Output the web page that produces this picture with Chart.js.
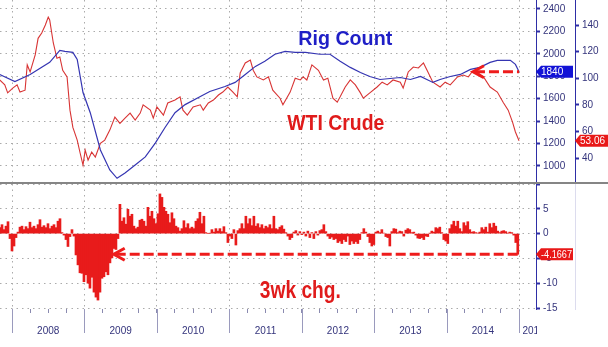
<!DOCTYPE html>
<html>
<head>
<meta charset="utf-8">
<script src="https://cdn.jsdelivr.net/npm/chart.js@4.4.1/dist/chart.umd.min.js"></script>
<style>
  html, body { margin: 0; padding: 0; background: #fff; }
  #wrap { position: relative; width: 608px; height: 347px; overflow: hidden; background: #fff; }
  #top { position: absolute; left: 0; top: 0; }
  #sep { position: absolute; left: 0; top: 182px; width: 608px; height: 2px; background: #858585; }
  #bottom { position: absolute; left: 0; top: 184px; }
</style>
</head>
<body>
<div id="wrap">
  <canvas id="top" width="608" height="182"></canvas>
  <div id="sep"></div>
  <canvas id="bottom" width="608" height="163"></canvas>
</div>
<script>
// ---- data ----
const years = [2008, 2009, 2010, 2011, 2012, 2013, 2014, 2015];
const yearLabels = ['2008', '2009', '2010', '2011', '2012', '2013', '2014', '2015'];
const rigTicks = [1000, 1200, 1400, 1600, 1800, 2000, 2200, 2400];
const wtiTicks = [40, 60, 80, 100, 120, 140];
const chgTicks = [-15, -10, -5, 0, 5, 10];

const rigYears = [2007.83, 2008.04, 2008.25, 2008.52, 2008.66, 2008.73, 2008.84, 2008.90, 2008.98, 2009.08,
  2009.22, 2009.35, 2009.45, 2009.56, 2009.70, 2009.84, 2009.98, 2010.11, 2010.25, 2010.39,
  2010.60, 2010.73, 2010.94, 2011.08, 2011.22, 2011.36, 2011.49, 2011.63, 2011.77, 2011.91,
  2012.05, 2012.25, 2012.39, 2012.53, 2012.67, 2012.81, 2012.94, 2013.08, 2013.22, 2013.36,
  2013.50, 2013.64, 2013.81, 2013.91, 2014.05, 2014.19, 2014.33, 2014.46, 2014.60, 2014.70,
  2014.88, 2014.95, 2015.00];
const rigCount = [1816, 1753, 1816, 1924, 2031, 2022, 2013, 1950, 1655, 1475,
  1143, 964, 890, 937, 1009, 1081, 1206, 1341, 1475, 1547,
  1619, 1664, 1709, 1745, 1816, 1888, 1933, 1996, 2022, 2013,
  2013, 1996, 1996, 1933, 1879, 1834, 1798, 1771, 1780, 1789,
  1771, 1798, 1745, 1771, 1798, 1816, 1861, 1879, 1924, 1942,
  1942, 1906, 1840];

const wtiYears = [2007.83, 2007.90, 2007.94, 2008.01, 2008.07, 2008.11, 2008.18, 2008.21, 2008.25, 2008.32,
  2008.36, 2008.41, 2008.46, 2008.50, 2008.52, 2008.57, 2008.62, 2008.66, 2008.70, 2008.76,
  2008.80, 2008.84, 2008.90, 2008.94, 2008.98, 2009.01, 2009.05, 2009.10, 2009.15, 2009.22,
  2009.28, 2009.35, 2009.42, 2009.49, 2009.56, 2009.63, 2009.70, 2009.77, 2009.81, 2009.91,
  2009.95, 2010.00, 2010.09, 2010.15, 2010.25, 2010.32, 2010.36, 2010.42, 2010.50, 2010.60,
  2010.64, 2010.71, 2010.78, 2010.85, 2010.91, 2010.98, 2011.05, 2011.11, 2011.15, 2011.22,
  2011.29, 2011.33, 2011.38, 2011.47, 2011.54, 2011.60, 2011.70, 2011.74, 2011.84, 2011.91,
  2011.98, 2012.02, 2012.07, 2012.14, 2012.23, 2012.30, 2012.36, 2012.43, 2012.49, 2012.53,
  2012.60, 2012.67, 2012.74, 2012.81, 2012.85, 2012.94, 2013.04, 2013.11, 2013.18, 2013.26,
  2013.36, 2013.40, 2013.47, 2013.54, 2013.61, 2013.68, 2013.73, 2013.81, 2013.91, 2013.98,
  2014.05, 2014.15, 2014.23, 2014.30, 2014.35, 2014.42, 2014.51, 2014.60, 2014.70, 2014.78,
  2014.85, 2014.91, 2014.95, 2015.00];
const wtiPrice = [98.7, 95, 89, 92.6, 95, 89.6, 91, 110, 104.7, 117.5,
  130, 134, 140, 146, 143.8, 126.5, 115, 116, 106, 101,
  76, 63, 53.5, 43.8, 34.7, 46, 38.5, 44.5, 40.8, 51,
  53.5, 61, 70.8, 66, 70, 73.8, 68.6, 73.8, 80, 76,
  70, 78.4, 72.3, 81.4, 83.6, 86, 76, 72.3, 78.4, 80,
  76, 81.4, 83.6, 87.4, 89.6, 93.4, 89.6, 86, 104, 111.5,
  113.7, 106, 101, 98.7, 101, 91, 85, 80, 89.6, 100,
  98.7, 101, 98.7, 110, 106, 98.7, 100, 85, 82, 86,
  93.4, 98.7, 95, 89, 85, 89, 93.4, 97, 95, 98.7,
  97, 92.6, 104.7, 108.4, 107.7, 111.5, 106, 97, 93.4, 97,
  95, 101, 102.4, 101, 104.7, 104.7, 101, 93.4, 89.6, 82,
  76, 67, 59.6, 53.06];

// 3wk change, sampled every ~2 weeks from the start of the chart
const chgStart = 2007.834;
const chgStep = 0.0276;
const chgValues = [
  1.2, 1.8, 0.8, 1.5, 2.4, -1.0, -3.5, -2.5, -0.8, 0.3,
  1.3, 1.5, 0.8, 1.4, 1.0, 2.3, 1.2, 1.5, 1.0, 1.8,
  2.8, 1.3, 1.6, 1.2, 2.0, 1.0, 1.5, 1.8, 1.2, 2.5,
  3.0, 0.2, -0.3, -1.2, -2.6, -0.6, 0.8, -0.5, -4.3, -6.3,
  -7.9, -8.0, -9.7, -8.3, -10.0, -11.0, -8.8, -11.8, -12.8, -13.4,
  -11.8, -9.0, -8.7, -7.7, -8.3, -5.9, -4.9, -3.0, -3.2, -1.0,
  5.9, 2.5, 3.2, 1.9, 4.9, 3.5, 3.9, 1.5, 1.0, 1.3,
  2.7, 2.9, 2.5, 1.5, 5.3, 3.5, 4.5, 3.0, 2.0, 4.0,
  8.0, 7.3, 5.3, 4.5, 3.9, 2.2, 4.2, 3.0, 1.5, 1.2,
  0.5, 1.0, 2.6, 1.2, 2.0, 1.0, 1.3, 1.0, 2.5, 3.0,
  4.3, 2.0, 3.5, 0.2, 0.0, 0.1, 0.8, 0.3, 1.0, 0.5,
  1.0, 0.4, 1.4, 0.2, -1.8, -0.5, -1.0, 0.8, -2.3, 0.6,
  1.0, 2.0, 1.0, 3.5, 2.0, 3.0, 1.6, 3.5, 1.5, 2.0,
  1.2, 1.8, 1.0, 1.5, 1.2, 1.8, 1.0, 3.5, 1.0, 0.8,
  1.3, 1.6, 0.9, 0.2, -0.5, -1.2, -0.8, 0.3, 0.6, -0.3,
  0.4, -0.2, 0.3, -0.5, 0.5, -0.8, 0.2, -1.0, 0.4, -0.3,
  0.6, 0.8, 1.8, 0.4, -0.5, -1.0, -0.7, -1.2, -1.0, -1.8,
  -1.5, -2.0, -1.2, -1.6, -0.5, -2.2, -1.5, -2.0, -1.6, -2.0,
  -1.2, 0.2, 1.0, 0.3, -0.6, -1.8, -2.5, -2.2, 0.3, 0.5,
  0.2, 0.8, 0.1, -0.6, -0.8, -2.5, 0.4, 1.0, 0.9, 0.2,
  0.5, 0.4, -0.5, 0.7, 1.0, 0.8, 0.2, 0.3, -0.3, -0.9,
  -1.0, -0.8, -1.2, -0.5, -0.6, 0.1, 0.5, 0.3, 1.2, 1.0,
  1.3, 0.2, -1.2, -1.5, -2.0, 1.0, 1.8, 2.5, 1.5, 2.5,
  1.0, 0.4, 2.2, 1.6, 2.4, 0.8, 0.3, 0.4, 0.2, 0.1,
  0.3, 1.2, 0.8, 1.3, 0.3, 2.0, 1.2, 2.1, 1.5, 0.5,
  0.2, 0.5, 0.6, 0.4, 0.1, 0.3, 0.2, -0.3, -1.8, -4.1667];

// annotation anchors (year, value)
const rigTitle = [2012.60, 2079];
const wtiTitle = [2012.47, 61.1];
const chgTitle = [2011.98, -13.0];
const rigArrowFrom = 2014.35;
const chgArrowFrom = 2009.39;

// ---- styling ----
const FONT = '"Liberation Sans", Arial, sans-serif';
const gridColor = '#ababab';
const axisBlue = '#2e2ea6';
const labelColor = '#34347c';
const lineBlue = '#3535b2';
const lineRed = '#d83434';
const barRed = '#e81b1b';
const xMin = 2007.834, xMax = 2015.234;

function pts(xs, ys) { return xs.map((x, i) => ({ x: x, y: ys[i] })); }
const last = arr => arr[arr.length - 1];
const plain = v => String(v);

function rightAxisFit(w) {
  return s => { s.width = w; s.paddingTop = 0; s.paddingBottom = 0; };
}

function drawTitle(ctx, text, cx, baseY, size, maxW, color) {
  ctx.save();
  ctx.font = 'bold ' + size + 'px ' + FONT;
  ctx.fillStyle = color;
  ctx.textAlign = 'center';
  ctx.textBaseline = 'alphabetic';
  ctx.fillText(text, cx, baseY, maxW);
  ctx.restore();
}

function dashedArrow(ctx, xTip, xEnd, y) {
  ctx.save();
  ctx.strokeStyle = '#ee1c1c';
  ctx.lineWidth = 3;
  ctx.setLineDash([10, 4]);
  ctx.beginPath();
  ctx.moveTo(xTip + 3, y);
  ctx.lineTo(xEnd, y);
  ctx.stroke();
  ctx.setLineDash([]);
  ctx.beginPath();
  ctx.moveTo(xTip + 12, y - 6);
  ctx.lineTo(xTip + 1, y);
  ctx.lineTo(xTip + 12, y + 6);
  ctx.stroke();
  ctx.restore();
}

function valueTag(ctx, x, y, w, color, text) {
  ctx.save();
  ctx.fillStyle = color;
  ctx.beginPath();
  ctx.moveTo(x, y);
  ctx.lineTo(x + 5, y - 6);
  ctx.lineTo(x + w, y - 6);
  ctx.lineTo(x + w, y + 6);
  ctx.lineTo(x + 5, y + 6);
  ctx.closePath();
  ctx.fill();
  ctx.fillStyle = '#fff';
  ctx.font = '10px ' + FONT;
  ctx.textAlign = 'left';
  ctx.textBaseline = 'middle';
  ctx.fillText(text, x + 5, y + 0.5, w - 6);
  ctx.restore();
}

// ---- top panel: rig count + WTI ----
const topDecor = {
  id: 'topDecor',
  afterDraw(chart) {
    const { ctx, scales } = chart;
    const x = scales.x, rig = scales.rig, wti = scales.wti;
    drawTitle(ctx, 'Rig Count', x.getPixelForValue(rigTitle[0]), rig.getPixelForValue(rigTitle[1]), 21, 94, '#1f1fc6');
    drawTitle(ctx, 'WTI Crude', x.getPixelForValue(wtiTitle[0]), wti.getPixelForValue(wtiTitle[1]), 22, 97, '#e01b1b');
    dashedArrow(ctx, x.getPixelForValue(rigArrowFrom), x.getPixelForValue(last(rigYears)), rig.getPixelForValue(last(rigCount)));
    valueTag(ctx, rig.left, rig.getPixelForValue(last(rigCount)), 37, '#1212d6', String(last(rigCount)));
    valueTag(ctx, wti.left, wti.getPixelForValue(last(wtiPrice)), 36, '#e81818', last(wtiPrice).toFixed(2));
  }
};

new Chart(document.getElementById('top'), {
  type: 'line',
  data: {
    datasets: [
      { label: 'Rig Count', data: pts(rigYears, rigCount), yAxisID: 'rig',
        borderColor: lineBlue, borderWidth: 1.2, pointRadius: 0, tension: 0 },
      { label: 'WTI Crude', data: pts(wtiYears, wtiPrice), yAxisID: 'wti',
        borderColor: lineRed, borderWidth: 1.1, pointRadius: 0, tension: 0 }
    ]
  },
  options: {
    responsive: false,
    animation: false,
    layout: { padding: 0 },
    plugins: { legend: { display: false }, tooltip: { enabled: false } },
    scales: {
      x: {
        type: 'linear', min: xMin, max: xMax,
        afterBuildTicks: s => { s.ticks = years.map(v => ({ value: v })); },
        afterFit: s => { s.height = 0; s.paddingLeft = 0; s.paddingRight = 0; },
        ticks: { display: false },
        grid: { color: gridColor, drawTicks: false },
        border: { display: false, dash: [1.5, 4] }
      },
      rig: {
        position: 'right', min: 857, max: 2480,
        afterBuildTicks: s => { s.ticks = rigTicks.map(v => ({ value: v })); },
        afterFit: rightAxisFit(39),
        ticks: { color: labelColor, font: { family: FONT, size: 10 }, padding: 3, callback: plain },
        grid: { color: gridColor, tickColor: axisBlue, tickLength: 4, tickWidth: 2 },
        border: { color: axisBlue, width: 1, dash: [1.5, 4] }
      },
      wti: {
        position: 'right', min: 22, max: 158.8,
        afterBuildTicks: s => { s.ticks = wtiTicks.map(v => ({ value: v })); },
        afterFit: rightAxisFit(33),
        ticks: { color: labelColor, font: { family: FONT, size: 10 }, padding: 3, callback: plain },
        grid: { drawOnChartArea: false, tickColor: axisBlue, tickLength: 4, tickWidth: 2 },
        border: { color: axisBlue, width: 1 }
      }
    }
  },
  plugins: [topDecor]
});

// ---- bottom panel: 3wk change ----
const quarterTicks = [];
for (let y = years[0]; y <= last(years); y += 0.25) quarterTicks.push(y);
const labelPos = years.map(y => (y === last(years) ? 2015.2 : y + 0.5));
const bottomTicks = quarterTicks.concat([2015.2]);

const bottomDecor = {
  id: 'bottomDecor',
  afterDraw(chart) {
    const { ctx, scales, chartArea, width, height } = chart;
    const x = scales.x, chg = scales.chg;
    // clip the last year label at the plot edge
    ctx.save();
    ctx.fillStyle = '#fff';
    ctx.fillRect(chartArea.right + 1, chartArea.bottom + 14, width, height);
    // long year separators under the axis
    ctx.strokeStyle = '#9a9abd';
    ctx.lineWidth = 1;
    years.forEach(y => {
      const px = Math.round(x.getPixelForValue(y)) + 0.5;
      ctx.beginPath();
      ctx.moveTo(px, chartArea.bottom);
      ctx.lineTo(px, chartArea.bottom + 24);
      ctx.stroke();
    });
    ctx.restore();
    drawTitle(ctx, '3wk chg.', x.getPixelForValue(chgTitle[0]), chg.getPixelForValue(chgTitle[1]), 24, 81, '#e01b1b');
    const yLast = chg.getPixelForValue(last(chgValues));
    dashedArrow(ctx, x.getPixelForValue(chgArrowFrom), x.getPixelForValue(chgStart + (chgValues.length - 1) * chgStep), yLast);
    valueTag(ctx, chg.left, yLast, 37, '#e81818', String(last(chgValues)));
  }
};

new Chart(document.getElementById('bottom'), {
  type: 'bar',
  data: {
    datasets: [{
      label: '3wk chg.',
      data: chgValues.map((v, i) => ({ x: chgStart + i * chgStep, y: v })),
      yAxisID: 'chg',
      backgroundColor: barRed,
      borderWidth: 0,
      barPercentage: 1,
      categoryPercentage: 1
    }]
  },
  options: {
    responsive: false,
    animation: false,
    layout: { padding: 0 },
    plugins: { legend: { display: false }, tooltip: { enabled: false } },
    scales: {
      x: {
        type: 'linear', min: xMin, max: xMax, offset: false,
        afterBuildTicks: s => { s.ticks = bottomTicks.map(v => ({ value: v })); },
        afterFit: s => { s.height = 38; s.paddingLeft = 0; s.paddingRight = 0; },
        ticks: {
          autoSkip: false, maxRotation: 0, color: labelColor,
          font: { family: FONT, size: 10 }, padding: 12,
          callback: v => { const i = labelPos.indexOf(v); return i >= 0 ? yearLabels[i] : ''; }
        },
        grid: {
          offset: false,
          color: c => (c.tick && Number.isInteger(c.tick.value) ? gridColor : 'rgba(0,0,0,0)'),
          tickColor: c => (c.tick && c.tick.value === 2015.2 ? 'rgba(0,0,0,0)' : '#8a8ab0'),
          tickLength: 4, tickWidth: 1
        },
        border: { display: false, dash: [1.5, 4] }
      },
      chg: {
        position: 'right', min: -15.2, max: 10,
        afterBuildTicks: s => { s.ticks = chgTicks.map(v => ({ value: v })); },
        afterFit: rightAxisFit(39),
        ticks: { color: labelColor, font: { family: FONT, size: 10 }, padding: 3,
          callback: v => (v === 10 ? '' : String(v)) },
        grid: { color: gridColor, tickColor: axisBlue, tickLength: 4, tickWidth: 2 },
        border: { color: axisBlue, width: 1, dash: [1.5, 4] }
      },
      pad: {
        position: 'right', display: true,
        afterFit: rightAxisFit(33),
        ticks: { display: false },
        grid: { display: false },
        border: { color: '#dcdcee', width: 1 }
      }
    }
  },
  plugins: [bottomDecor]
});
</script>
</body>
</html>
